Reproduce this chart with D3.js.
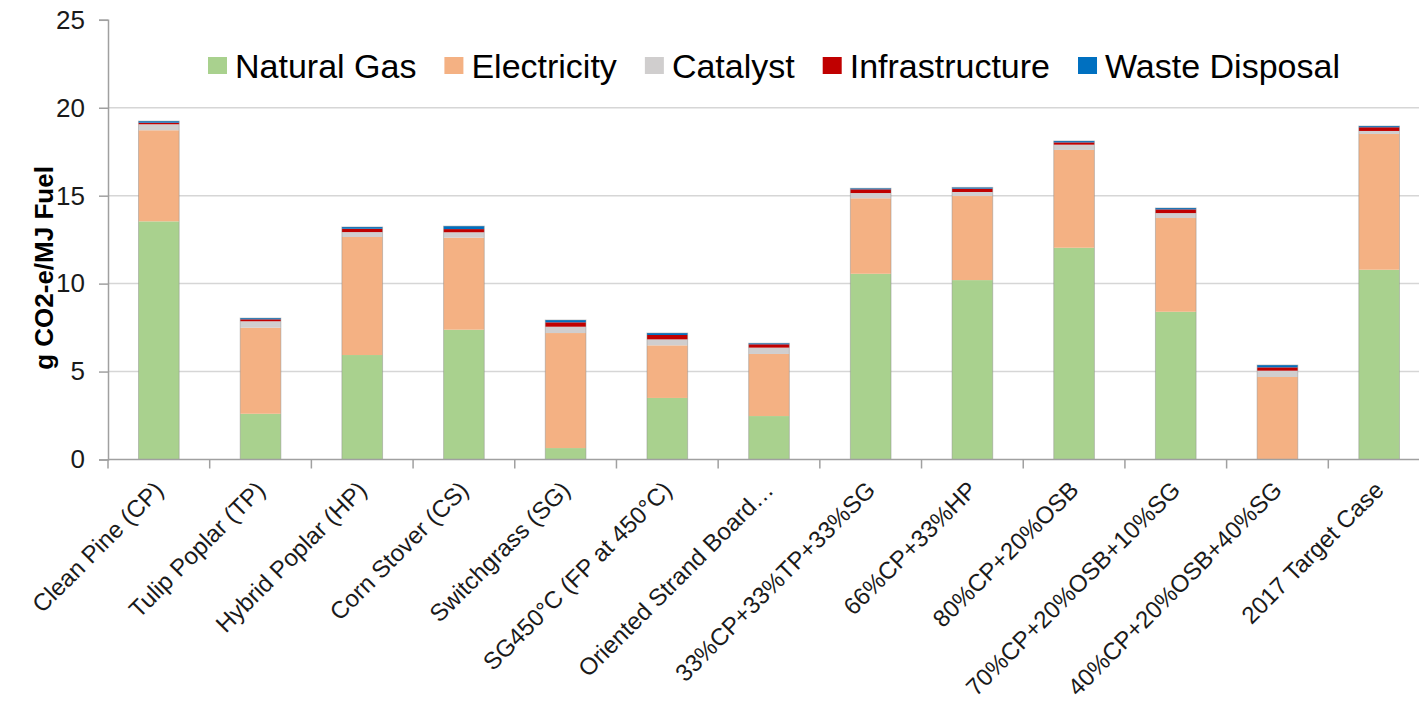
<!DOCTYPE html>
<html>
<head>
<meta charset="utf-8">
<script src="https://cdn.jsdelivr.net/npm/d3@7"></script>
<style>
  body { margin: 0; background: #fff; }
  svg { display: block; font-family: "Liberation Sans", Arial, sans-serif; }
</style>
</head>
<body>
<script>
const w = 1419;
const h = 716;

// chart values
const categories = ["Clean Pine (CP)", "Tulip Poplar (TP)", "Hybrid Poplar (HP)", "Corn Stover (CS)",
  "Switchgrass (SG)", "SG450°C (FP at 450°C)", "Oriented Strand Board…", "33%CP+33%TP+33%SG",
  "66%CP+33%HP", "80%CP+20%OSB", "70%CP+20%OSB+10%SG", "40%CP+20%OSB+40%SG", "2017 Target Case"];
const seriesNames = ["Natural Gas", "Electricity", "Catalyst", "Infrastructure", "Waste Disposal"];
const naturalGas = [13.54, 2.60, 5.94, 7.38, 0.65, 3.50, 2.47, 10.56, 10.20, 12.04, 8.40, 0, 10.79];
const electricity = [5.18, 4.89, 6.71, 5.23, 6.54, 2.99, 3.53, 4.29, 4.78, 5.56, 5.33, 4.69, 7.72];
const catalyst = [0.34, 0.37, 0.28, 0.31, 0.36, 0.34, 0.36, 0.30, 0.23, 0.30, 0.28, 0.36, 0.17];
const infrastructure = [0.09, 0.11, 0.19, 0.18, 0.25, 0.25, 0.19, 0.21, 0.19, 0.13, 0.21, 0.19, 0.21];
const wasteDisposal = [0.09, 0.07, 0.10, 0.17, 0.13, 0.11, 0.06, 0.06, 0.07, 0.08, 0.08, 0.13, 0.07];
const yTicks = [0, 5, 10, 15, 20, 25];

const colours = ["#a9d18e", "#f4b183", "#d0cece", "#c00000", "#0070c0"];

const plotLeft = 108, plotRight = 1430, plotTop = 19.8, plotBottom = 459.5;

const table = categories.map((c, i) => ({
  cat: c,
  "Natural Gas": naturalGas[i],
  "Electricity": electricity[i],
  "Catalyst": catalyst[i],
  "Infrastructure": infrastructure[i],
  "Waste Disposal": wasteDisposal[i]
}));
const stacked = d3.stack().keys(seriesNames)(table);

let svg = d3.select("body").append("svg")
  .attr("width", w)
  .attr("height", h);

let x = d3.scaleBand()
  .domain(categories)
  .range([plotLeft, plotRight])
  .paddingInner(0.6)
  .paddingOuter(0.3);

let y = d3.scaleLinear()
  .domain([0, 25])
  .range([plotBottom, plotTop]);

// gridlines
svg.append("g")
  .selectAll("line")
  .data(yTicks.filter(t => t > 0 && t < 25))
  .enter()
  .append("line")
  .attr("x1", plotLeft)
  .attr("x2", w)
  .attr("y1", d => y(d))
  .attr("y2", d => y(d))
  .attr("stroke", "#d6d6d6")
  .attr("stroke-width", 1.5);

// bars
svg.append("g")
  .selectAll("g")
  .data(stacked)
  .enter()
  .append("g")
  .attr("fill", (d, i) => colours[i])
  .selectAll("rect")
  .data(d => d)
  .enter()
  .append("rect")
  .attr("x", d => x(d.data.cat))
  .attr("width", x.bandwidth())
  .attr("y", d => y(d[1]))
  .attr("height", d => y(d[0]) - y(d[1]));

// thin outline round each stack
svg.append("g")
  .selectAll("rect")
  .data(stacked[stacked.length - 1])
  .enter()
  .append("rect")
  .attr("x", d => x(d.data.cat))
  .attr("width", x.bandwidth())
  .attr("y", d => y(d[1]))
  .attr("height", d => y(0) - y(d[1]))
  .attr("fill", "none")
  .attr("stroke", "rgba(140,140,140,0.45)")
  .attr("stroke-width", 1);

// y axis
let yAxis = svg.append("g")
  .attr("transform", "translate(" + plotLeft + ",0)")
  .call(d3.axisLeft(y).tickValues(yTicks).tickSize(9).tickPadding(14));
yAxis.select(".domain").attr("stroke", "#a0a0a0").attr("stroke-width", 1.5);
yAxis.selectAll(".tick line").attr("stroke", "#a0a0a0").attr("stroke-width", 1.5);
yAxis.selectAll(".tick text")
  .style("font-size", "26px")
  .style("font-family", "Liberation Sans, Arial, sans-serif")
  .attr("fill", "#1a1a1a");

// x axis
svg.append("line")
  .attr("x1", plotLeft).attr("x2", w)
  .attr("y1", plotBottom).attr("y2", plotBottom)
  .attr("stroke", "#a0a0a0")
  .attr("stroke-width", 1.5);

let step = x.step();
svg.append("g")
  .selectAll("line")
  .data(categories)
  .enter()
  .append("line")
  .attr("x1", d => x(d) + x.bandwidth() / 2 - step / 2)
  .attr("x2", d => x(d) + x.bandwidth() / 2 - step / 2)
  .attr("y1", plotBottom)
  .attr("y2", plotBottom + 9)
  .attr("stroke", "#a0a0a0")
  .attr("stroke-width", 1.5);

svg.append("g")
  .selectAll("text")
  .data(categories)
  .enter()
  .append("text")
  .attr("transform", d => "translate(" + (x(d) + x.bandwidth() / 2 + 6) + "," + (plotBottom + 32) + ") rotate(-45)")
  .attr("text-anchor", "end")
  .style("font-size", "24px")
  .attr("fill", "#1a1a1a")
  .text(d => d);

// y title
svg.append("text")
  .attr("transform", "translate(44,268) rotate(-90)")
  .attr("text-anchor", "middle")
  .attr("dy", "0.35em")
  .style("font-size", "26px")
  .style("font-weight", "bold")
  .attr("fill", "#000")
  .text("g CO2-e/MJ Fuel");

// legend
let legend = svg.append("g");
let lx = 208;
seriesNames.forEach((name, i) => {
  legend.append("rect")
    .attr("x", lx)
    .attr("y", 57)
    .attr("width", 19)
    .attr("height", 17)
    .attr("fill", colours[i]);
  let t = legend.append("text")
    .attr("x", lx + 27)
    .attr("y", 77.5)
    .style("font-size", "34px")
    .attr("fill", "#000")
    .text(name);
  lx += 27 + t.node().getComputedTextLength() + 28;
});
</script>
</body>
</html>
